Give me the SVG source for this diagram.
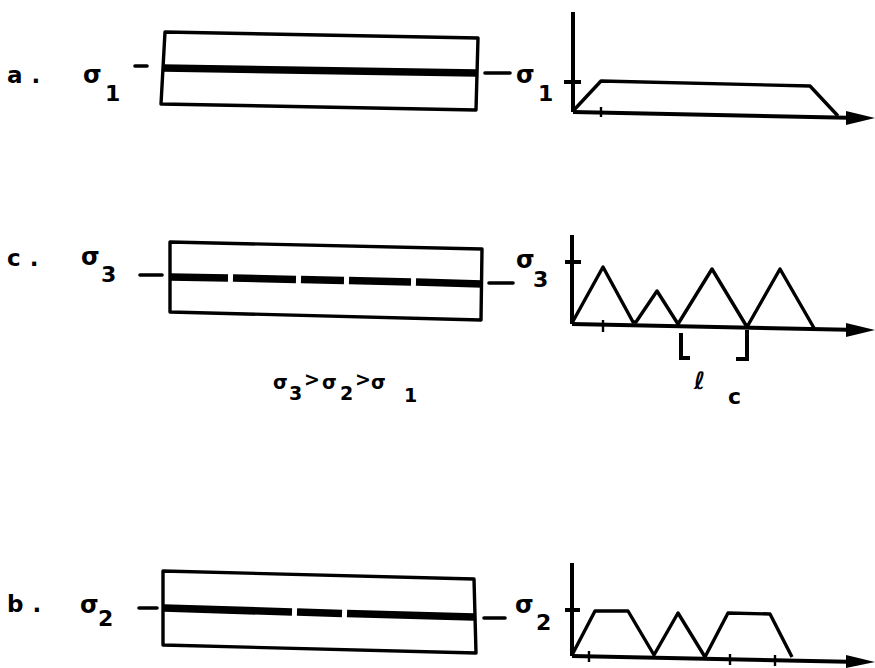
<svg xmlns="http://www.w3.org/2000/svg" width="875" height="668" viewBox="0 0 875 668">
<defs>
<style>
.bg{fill:#fff}
.box{fill:none;stroke:#000;stroke-width:3.4;stroke-linejoin:round}
.fib{fill:none;stroke:#000;stroke-width:7.5;stroke-linecap:butt}
.stub{fill:none;stroke:#000;stroke-width:3.6;stroke-linecap:round}
.axis{fill:none;stroke:#000;stroke-width:4}
.curve{fill:none;stroke:#000;stroke-width:3.4;stroke-linejoin:round}
.tick{fill:none;stroke:#000;stroke-width:2.4}
.lbl{font-family:"DejaVu Sans","Liberation Sans",sans-serif;font-weight:bold;fill:#000;font-size:23px;letter-spacing:9px}
.sig{font-family:"DejaVu Sans","Liberation Sans",sans-serif;font-weight:bold;fill:#000;font-size:24px}
.sub{font-family:"DejaVu Sans","Liberation Sans",sans-serif;font-weight:bold;fill:#000;font-size:22px}
.eq{font-family:"DejaVu Sans","Liberation Sans",sans-serif;font-weight:bold;fill:#000;font-size:19px}
</style>
</defs>
<rect class="bg" x="0" y="0" width="875" height="668"/>

<!-- Panel a -->
<g id="panel-a">
<text class="lbl" x="7" y="83">a.</text>
<text class="sig" x="83" y="83">σ</text>
<text class="sub" x="105" y="101">1</text>
<line class="stub" x1="135" y1="66" x2="147" y2="66"/>
<path class="box" d="M165,32 L478,38 L476,110 L161,104 Z"/>
<line class="fib" x1="163" y1="68" x2="477" y2="73"/>
<line class="stub" x1="485" y1="73" x2="510" y2="73"/>
<text class="sig" x="516" y="83">σ</text>
<text class="sub" x="538" y="101">1</text>
</g>
<g id="graph-a">
<line class="axis" x1="573" y1="112" x2="573" y2="12"/>
<line class="axis" x1="564" y1="82" x2="581" y2="82"/>
<line class="axis" x1="573" y1="112" x2="860" y2="118"/>
<path d="M846,111 L875,118 L846,125 Z" fill="#000"/>
<line class="tick" x1="601" y1="107" x2="601" y2="117"/>
<path class="curve" d="M573,111 L601,81 L810,86 L838,116"/>
</g>

<!-- Panel c -->
<g id="panel-c">
<text class="lbl" x="7" y="266">c.</text>
<text class="sig" x="81" y="265">σ</text>
<text class="sub" x="101" y="282">3</text>
<line class="stub" x1="140" y1="275" x2="162" y2="275"/>
<path class="box" d="M170,242 L482,249 L481,320 L170,312 Z"/>
<g>
<line class="fib" x1="170" y1="277" x2="228" y2="278"/>
<line class="fib" x1="233" y1="278" x2="296" y2="279.5"/>
<line class="fib" x1="301" y1="279.5" x2="344" y2="280.5"/>
<line class="fib" x1="349" y1="280.5" x2="411" y2="282"/>
<line class="fib" x1="416" y1="282" x2="482" y2="284"/>
</g>
<line class="stub" x1="489" y1="283" x2="513" y2="283"/>
<text class="sig" x="516" y="268">σ</text>
<text class="sub" x="533" y="287">3</text>
<text class="eq" x="273" y="389">σ</text>
<text class="eq" x="289" y="400">3</text>
<text class="eq" x="304" y="386" font-size="11">&gt;</text>
<text class="eq" x="322" y="389">σ</text>
<text class="eq" x="340" y="400">2</text>
<text class="eq" x="355" y="386" font-size="11">&gt;</text>
<text class="eq" x="371" y="389">σ</text>
<text class="eq" x="404" y="402">1</text>
</g>
<g id="graph-c">
<line class="axis" x1="572" y1="324" x2="572" y2="235"/>
<line class="axis" x1="565" y1="262" x2="581" y2="262"/>
<line class="axis" x1="572" y1="324" x2="860" y2="330"/>
<path d="M846,323 L875,330 L846,337 Z" fill="#000"/>
<line class="tick" x1="603" y1="320" x2="603" y2="332"/>
<path class="curve" d="M572,323 L603,267 L633,322 L636,322 L657,291 L678,324 L712,269 L747,327 L780,269 L814,328"/>
<path class="axis" d="M681,333 L681,358 L690,358"/>
<path class="axis" d="M747,330 L747,359 L736,359"/>
<text class="sig" x="694" y="389" font-size="30">ℓ</text>
<text class="sub" x="728" y="404" font-size="20">c</text>
</g>

<!-- Panel b -->
<g id="panel-b">
<text class="lbl" x="7" y="612">b.</text>
<text class="sig" x="80" y="613">σ</text>
<text class="sub" x="98" y="626">2</text>
<line class="stub" x1="139" y1="608" x2="157" y2="608"/>
<path class="box" d="M163,571 L474,579 L476,653 L163,645 Z"/>
<g>
<line class="fib" x1="164" y1="608" x2="292" y2="612"/>
<line class="fib" x1="297" y1="612" x2="342" y2="613.5"/>
<line class="fib" x1="347" y1="613.5" x2="474" y2="617"/>
</g>
<line class="stub" x1="484" y1="618" x2="505" y2="618"/>
<text class="sig" x="515" y="613">σ</text>
<text class="sub" x="536" y="630">2</text>
</g>
<g id="graph-b">
<line class="axis" x1="572" y1="656" x2="572" y2="563"/>
<line class="axis" x1="565" y1="610" x2="580" y2="610"/>
<line class="axis" x1="572" y1="656" x2="860" y2="662"/>
<path d="M846,655 L875,662 L846,668 Z" fill="#000"/>
<line class="tick" x1="589" y1="651" x2="589" y2="662"/>
<line class="tick" x1="730" y1="654" x2="730" y2="665"/>
<line class="tick" x1="775" y1="655" x2="775" y2="666"/>
<path class="curve" d="M572,655 L595,611 L628,611 L654,655 L678,613 L705,657 L728,613 L770,614 L792,657"/>
</g>
</svg>
